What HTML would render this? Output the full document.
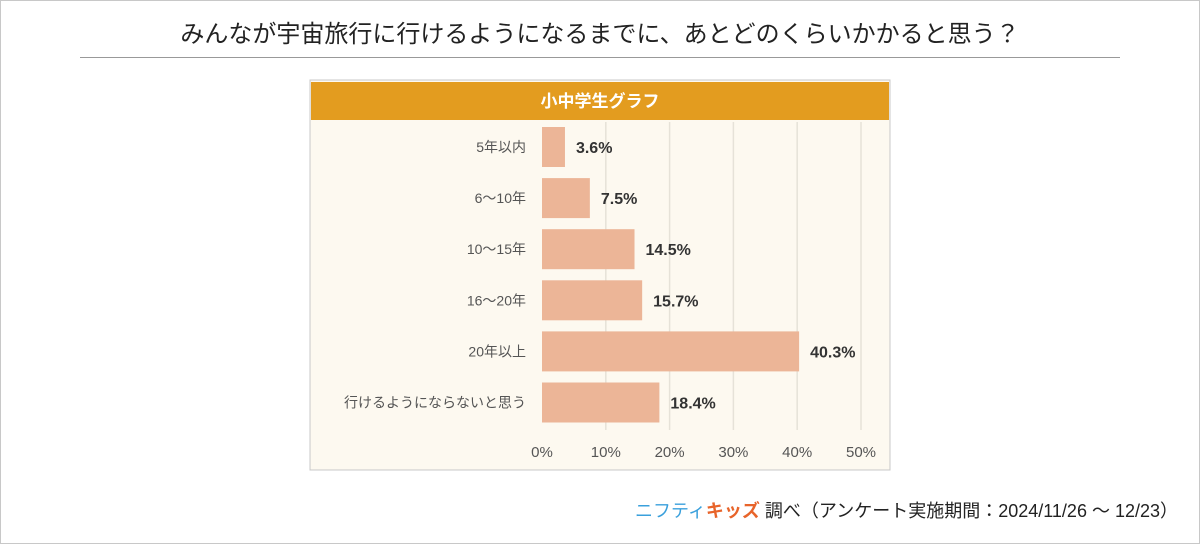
<!DOCTYPE html>
<html><head><meta charset="utf-8"><style>
body{margin:0;width:1200px;height:544px;background:#fff;font-family:"Liberation Sans","Noto Sans CJK JP",sans-serif;overflow:hidden}
#frame{position:absolute;left:0;top:0;width:1198px;height:542px;border:1px solid #c8c8c8}
#title{position:absolute;left:80px;width:1040px;top:14px;text-align:center;font-size:24px;color:#222}
#rule{position:absolute;left:80px;width:1040px;top:57px;height:1px;background:#999}
#credit{position:absolute;right:22px;top:497px;font-size:18px;color:#222}
</style></head><body>
<div id="frame"></div>
<div id="title">みんなが宇宙旅行に行けるようになるまでに、あとどのくらいかかると思う？</div>
<div id="rule"></div>
<svg id="chart" width="1200" height="544" style="position:absolute;left:0;top:0">
<rect x="310" y="80" width="580" height="390" fill="#fdf9f0" stroke="#c8c8c8"/>
<rect x="311" y="82" width="578" height="38" fill="#e39c1f"/>
<text x="600" y="107" text-anchor="middle" font-size="17" font-weight="bold" fill="#fff">小中学生グラフ</text>
<g id="grid"></g><g id="bars"></g><g id="ticks"></g>
</svg>
<div id="credit"><span style="color:#3aa0dc">ニフティ</span><span style="color:#e8642a;font-weight:bold">キッズ</span> 調べ（アンケート実施期間：2024/11/26 ～ 12/23）</div>
<script>
const categories=["5年以内","6～10年","10～15年","16～20年","20年以上","行けるようにならないと思う"];
const values=[3.6,7.5,14.5,15.7,40.3,18.4];
const tickValues=[0,10,20,30,40,50];
const tickLabels=["0%","10%","20%","30%","40%","50%"];
const NS="http://www.w3.org/2000/svg";
const x=v=>542+v*6.38;
const y=i=>147+i*51.1;
function mk(tag,attrs,parent){const e=document.createElementNS(NS,tag);for(const k in attrs)e.setAttribute(k,attrs[k]);parent.appendChild(e);return e;}
const grid=document.getElementById('grid'),bars=document.getElementById('bars'),ticks=document.getElementById('ticks');
tickValues.forEach((t,i)=>{
 if(t>0){const l=mk('line',{x1:x(t),x2:x(t),y1:122,y2:430,stroke:'#e6e2d8','stroke-width':1.5},grid);
 
 }
 const tx=mk('text',{x:x(t),y:457,'text-anchor':'middle','font-size':15,fill:'#555'},ticks);
 tx.textContent=tickLabels[i];
 
 
});
categories.forEach((c,i)=>{
 const lb=mk('text',{x:526,y:y(i)+5,'text-anchor':'end','font-size':14,fill:'#555'},bars);
 lb.textContent=c;
 
 
 const r=mk('rect',{x:x(0),y:y(i)-20,width:x(values[i])-x(0),height:40,fill:'#ecb597'},bars);
 
 
 const v=mk('text',{x:x(values[i])+11,y:y(i)+6,'font-size':16,'font-weight':'bold',fill:'#333'},bars);
 v.textContent=values[i].toFixed(1)+'%';
 
 
});
</script>
</body></html>
